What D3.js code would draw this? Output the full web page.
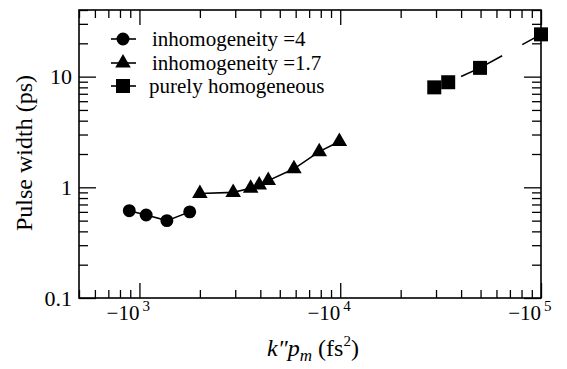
<!DOCTYPE html>
<html>
<head>
<meta charset="utf-8">
<script src="https://cdn.jsdelivr.net/npm/d3@7"></script>
<style>
  body { margin: 0; background: #fff; }
  svg { display: block; }
</style>
</head>
<body>
<svg id="chart" width="567" height="369"></svg>
<script>
// data (x is |k''p_m| in fs^2, y is pulse width in ps)
const inhom4X = [890, 1080, 1370, 1780];
const inhom4Y = [0.615, 0.562, 0.50, 0.60];

const inhom17X = [2000, 2930, 3580, 3950, 4380, 5880, 7860, 9900];
const inhom17Y = [0.88, 0.90, 0.98, 1.05, 1.15, 1.47, 2.10, 2.59];

const homoX = [29400, 34500, 49700, 100000];
const homoY = [8.0, 8.9, 12.0, 24.1];

const legendLabels = ['inhomogeneity =4', 'inhomogeneity =1.7', 'purely homogeneous'];
const xMajor = [1e3, 1e4, 1e5];
const xMajorExp = ['3', '4', '5'];
const yMajor = [0.1, 1, 10];
const yMajorLabels = ['0.1', '1', '10'];

const margin = { left: 79, right: 541, top: 10, bottom: 298 };
const serif = 'Liberation Serif, Tinos, Noto Serif, DejaVu Serif, Times New Roman, Times, Nimbus Roman, FreeSerif, serif';

const svg = d3.select('#chart');

const x = d3.scaleLog().domain([500, 1e5]).range([margin.left, margin.right]);
const y = d3.scaleLog().domain([0.1, 40]).range([margin.bottom, margin.top]);

const isMajor = v => Math.abs(Math.log10(v) - Math.round(Math.log10(v))) < 1e-6;

// axes, ticks pointing inwards on all four sides
function styleAxis(g) {
    g.select('.domain').remove();
    g.selectAll('.tick line')
        .attr('stroke', '#000')
        .attr('stroke-width', 1.3);
    g.selectAll('.tick text').remove();
}

svg.append('g')
    .attr('transform', `translate(0,${margin.bottom})`)
    .call(d3.axisBottom(x).ticks(10).tickSize(-8).tickFormat(''))
    .call(styleAxis)
    .selectAll('.tick line')
    .attr('y2', d => isMajor(d) ? -15 : -8);

svg.append('g')
    .attr('transform', `translate(0,${margin.top})`)
    .call(d3.axisTop(x).ticks(10).tickSize(-8).tickFormat(''))
    .call(styleAxis)
    .selectAll('.tick line')
    .attr('y2', d => isMajor(d) ? 15 : 8);

svg.append('g')
    .attr('transform', `translate(${margin.left},0)`)
    .call(d3.axisLeft(y).ticks(10).tickSize(-9).tickFormat(''))
    .call(styleAxis)
    .selectAll('.tick line')
    .attr('x2', d => isMajor(d) ? 17 : 9);

svg.append('g')
    .attr('transform', `translate(${margin.right},0)`)
    .call(d3.axisRight(y).ticks(10).tickSize(-9).tickFormat(''))
    .call(styleAxis)
    .selectAll('.tick line')
    .attr('x2', d => isMajor(d) ? -17 : -9);

// frame
svg.append('rect')
    .attr('x', margin.left)
    .attr('y', margin.top)
    .attr('width', margin.right - margin.left)
    .attr('height', margin.bottom - margin.top)
    .attr('fill', 'none')
    .attr('stroke', '#000')
    .attr('stroke-width', 1.6);

function txt() {
    return svg.append('text').style('font-family', serif).attr('fill', '#000');
}

// x tick labels: -10 with a superscript exponent
xMajor.forEach((v, i) => {
    txt().attr('x', x(v))
        .attr('y', 320)
        .attr('text-anchor', 'end')
        .attr('font-size', 21)
        .text('\u221210');
    txt().attr('x', x(v) + 3)
        .attr('y', 311)
        .attr('font-size', 15)
        .text(xMajorExp[i]);
});

// y tick labels
yMajor.forEach((v, i) => {
    txt().attr('x', 72)
        .attr('y', y(v))
        .attr('dy', '0.35em')
        .attr('text-anchor', 'end')
        .attr('font-size', 22)
        .text(yMajorLabels[i]);
});

// axis titles
txt().attr('transform', 'translate(32,153) rotate(-90)')
    .attr('text-anchor', 'middle')
    .attr('font-size', 24)
    .text('Pulse width (ps)');

const title = txt()
    .attr('x', 313)
    .attr('y', 356)
    .attr('text-anchor', 'middle')
    .attr('font-size', 24);
title.append('tspan').attr('font-style', 'italic').text('k\u2033p');
title.append('tspan').attr('font-style', 'italic').attr('font-size', 17).attr('dy', 5).text('m');
title.append('tspan').attr('dy', -5).text(' (fs');
title.append('tspan').attr('font-size', 15).attr('dy', -10).text('2');
title.append('tspan').attr('dy', 10).text(')');

// series
const line = d3.line().x(d => x(d[0])).y(d => y(d[1]));
const pts4 = d3.zip(inhom4X, inhom4Y);
const pts17 = d3.zip(inhom17X, inhom17Y);
const ptsH = d3.zip(homoX, homoY);

const circleSym = d3.symbol().type(d3.symbolCircle).size(Math.PI * 42);
const triSym = d3.symbol().type(d3.symbolTriangle).size(105);
const squareSym = d3.symbol().type(d3.symbolSquare).size(196);

const plot = svg.append('g');

function drawSeries(pts, sym, dash) {
    const path = plot.append('path')
        .datum(pts)
        .attr('d', line)
        .attr('fill', 'none')
        .attr('stroke', '#000')
        .attr('stroke-width', 1.6);
    if (dash) path.attr('stroke-dasharray', dash.array).attr('stroke-dashoffset', dash.offset);
    plot.selectAll(null)
        .data(pts)
        .enter().append('path')
        .attr('d', sym)
        .attr('transform', d => `translate(${x(d[0])},${y(d[1])})`)
        .attr('fill', '#000');
}

drawSeries(pts4, circleSym);
drawSeries(pts17, triSym);
drawSeries(ptsH, squareSym, { array: '46,23', offset: 40 });

// legend
const legendSyms = [circleSym, triSym, squareSym];
const legendY = [39, 63, 86];
const legendTextX = [152, 152, 149];
legendLabels.forEach((label, i) => {
    const g = svg.append('g');
    g.append('line')
        .attr('x1', 111).attr('x2', 136)
        .attr('y1', legendY[i]).attr('y2', legendY[i])
        .attr('stroke', '#000').attr('stroke-width', 1.6);
    g.append('path')
        .attr('d', legendSyms[i])
        .attr('transform', `translate(123,${legendY[i]})`)
        .attr('fill', '#000');
    txt().attr('x', legendTextX[i])
        .attr('y', legendY[i] + 7)
        .attr('font-size', 21)
        .text(label);
});
</script>
</body>
</html>
